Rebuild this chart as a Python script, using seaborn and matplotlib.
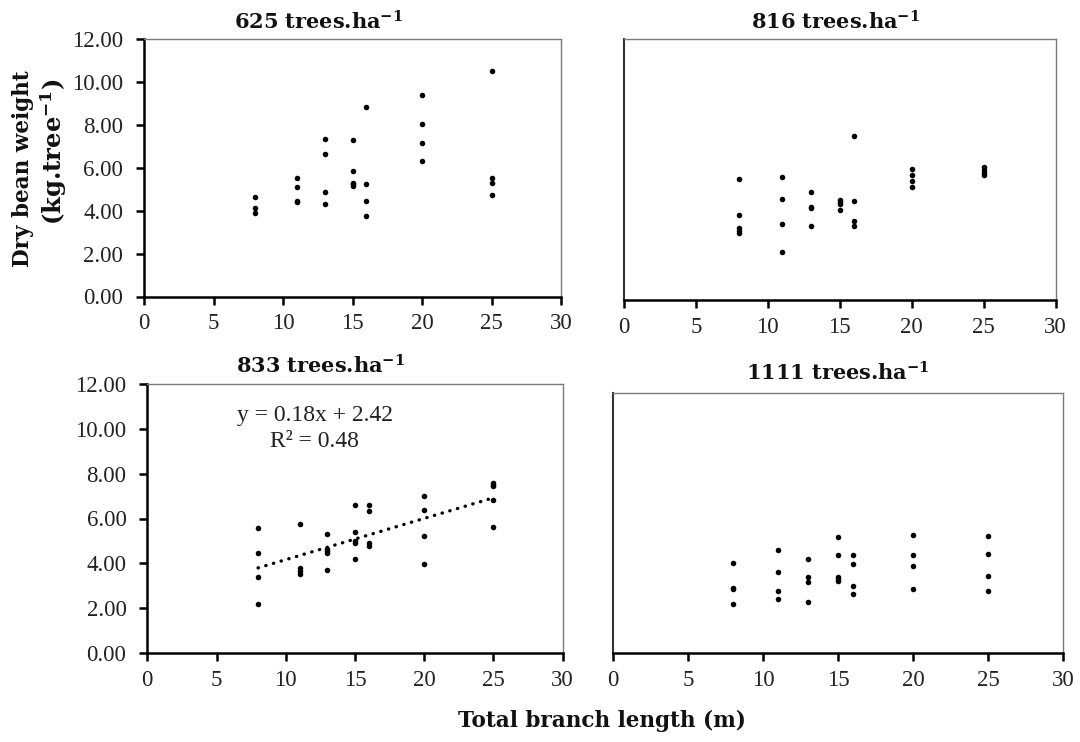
import matplotlib
matplotlib.use("Agg")
import matplotlib.pyplot as plt
import seaborn as sns
import pandas as pd
import numpy as np

# ---------------- data ----------------
titles = ["625 trees.ha$^{-1}$", "816 trees.ha$^{-1}$",
          "833 trees.ha$^{-1}$", "1111 trees.ha$^{-1}$"]

x_625 = [8, 8, 8, 11, 11, 11, 11, 13, 13, 13, 13, 15, 15, 15, 15, 15,
         16, 16, 16, 16, 20, 20, 20, 20, 25, 25, 25, 25]
y_625 = [4.63, 4.12, 3.87, 5.53, 5.11, 4.44, 4.40, 7.33, 6.62, 4.86, 4.29,
         7.27, 5.84, 5.30, 5.24, 5.16, 8.83, 5.24, 4.46, 3.74,
         9.37, 8.05, 7.17, 6.33, 10.50, 5.50, 5.30, 4.71]

x_816 = [8, 8, 8, 8, 8, 11, 11, 11, 11, 13, 13, 13, 13, 15, 15, 15, 15,
         16, 16, 16, 16, 20, 20, 20, 20, 25, 25, 25, 25]
y_816 = [5.58, 3.93, 3.30, 3.19, 3.08, 5.65, 4.64, 3.51, 2.21,
         4.99, 4.28, 4.22, 3.39, 4.60, 4.51, 4.41, 4.16,
         7.54, 4.57, 3.64, 3.39, 6.02, 5.74, 5.48, 5.22,
         6.12, 5.98, 5.85, 5.75]

x_833 = [8, 8, 8, 8, 11, 11, 11, 11, 13, 13, 13, 13, 13, 15, 15, 15, 15, 15,
         16, 16, 16, 16, 20, 20, 20, 20, 25, 25, 25, 25, 25]
y_833 = [5.56, 4.44, 3.39, 2.19, 5.76, 3.77, 3.65, 3.52,
         5.30, 4.66, 4.56, 4.48, 3.70, 6.60, 5.40, 5.01, 4.90, 4.20,
         6.61, 6.32, 4.90, 4.78, 7.00, 6.38, 5.22, 3.98,
         7.59, 7.50, 7.44, 6.84, 5.64]

x_1111 = [8, 8, 8, 8, 11, 11, 11, 11, 13, 13, 13, 13, 15, 15, 15, 15, 15,
          16, 16, 16, 16, 20, 20, 20, 20, 25, 25, 25, 25]
y_1111 = [4.15, 3.01, 2.96, 2.25, 4.73, 3.73, 2.84, 2.49,
          4.32, 3.52, 3.27, 2.37, 5.33, 4.50, 3.50, 3.40, 3.31,
          4.50, 4.09, 3.09, 2.72, 5.45, 4.50, 4.02, 2.96,
          5.39, 4.56, 3.55, 2.84]

x_ticks = [0, 5, 10, 15, 20, 25, 30]
y_ticks = [0, 2, 4, 6, 8, 10, 12]
eq_text = "y = 0.18x + 2.42"
r2_text = "R² = 0.48"

# ---------------- style ----------------
sns.set_theme(style="white")
plt.rcParams["font.family"] = ["Liberation Serif", "DejaVu Serif"]
plt.rcParams["mathtext.fontset"] = "custom"
plt.rcParams["mathtext.rm"] = "DejaVu Serif:bold"
plt.rcParams["mathtext.bf"] = "DejaVu Serif:bold"
plt.rcParams["mathtext.default"] = "rm"
BOLD = ["DejaVu Serif", "Liberation Serif"]

W, H = 1080, 742
fig = plt.figure(figsize=(W / 100, H / 100), dpi=100)
fig.patch.set_facecolor("white")


def ax_at(l, r, t, b):
    return fig.add_axes([l / W, 1 - b / H, (r - l) / W, (b - t) / H])


boxes = [(144, 561, 39, 296.5), (624, 1055.5, 39.3, 300),
         (147.3, 562.7, 384, 653), (613, 1063.3, 392.7, 653)]
series = [(x_625, y_625), (x_816, y_816), (x_833, y_833), (x_1111, y_1111)]

axes = []
for i, ((l, r, t, b), (xs, ys)) in enumerate(zip(boxes, series)):
    ax = ax_at(l, r, t, b)
    df = pd.DataFrame({"x": xs, "y": ys})
    sns.scatterplot(data=df, x="x", y="y", ax=ax, color="black", s=16,
                    linewidth=0, zorder=3)
    ax.set_xlim(0, 30)
    ax.set_ylim(0, 12)
    ax.set_xticks(x_ticks)
    ax.set_xticklabels([str(v) for v in x_ticks])
    ax.set_xlabel("")
    ax.set_ylabel("")
    for s in ["top", "right"]:
        ax.spines[s].set_color("#7a7a7a")
        ax.spines[s].set_linewidth(1.0)
    ax.spines["bottom"].set_color("black")
    ax.spines["bottom"].set_linewidth(1.8)
    ax.tick_params(axis="x", direction="out", length=6, width=1.8,
                   labelsize=16.5, pad=6, colors="black", bottom=True)
    ax.tick_params(axis="x", labelcolor="#222222")
    if i in (0, 2):
        ax.set_yticks(y_ticks)
        ax.set_yticklabels([f"{v:.2f}" for v in y_ticks])
        ax.spines["left"].set_color("black")
        ax.spines["left"].set_linewidth(1.8)
        ax.tick_params(axis="y", direction="out", length=6, width=1.8,
                       labelsize=16.5, pad=9, colors="black", left=True)
        ax.tick_params(axis="y", labelcolor="#222222")
    else:
        ax.set_yticks([])
        ax.spines["left"].set_color("#333333")
        ax.spines["left"].set_linewidth(1.5)
    axes.append(ax)

# trend line for 833 trees
sns.regplot(x=x_833, y=y_833, ax=axes[2], scatter=False, ci=None,
            truncate=True, color="black",
            line_kws={"linestyle": (0, (0.1, 2.3)), "linewidth": 2.4,
                      "dash_capstyle": "round"})
axes[2].set_xlim(0, 30)
axes[2].set_ylim(0, 12)

fig.text(315 / W, 1 - 416 / H, eq_text, ha="center", va="center",
         fontsize=17, color="#222222")
fig.text(314 / W, 1 - 442 / H, r2_text, ha="center", va="center",
         fontsize=17, color="#222222")

# titles
title_pos = [(318, 22), (835, 22), (320, 366), (838, 373)]
for t, (px, py) in zip(titles, title_pos):
    fig.text(px / W, 1 - py / H, t, ha="center", va="center",
             fontsize=15, fontweight="bold", family=BOLD, color="#111111")

# axis labels
fig.text(23 / W, 1 - 169 / H, "Dry bean weight", rotation=90, ha="center",
         va="center", fontsize=15.5, fontweight="bold", family=BOLD,
         color="#111111")
fig.text(54 / W, 1 - 152 / H, "(kg.tree$^{-1}$)", rotation=90, ha="center",
         va="center", fontsize=17.5, fontweight="bold", family=BOLD,
         color="#111111")
fig.text(602 / W, 1 - 721 / H, "Total branch length (m)", ha="center",
         va="center", fontsize=15.5, fontweight="bold", family=BOLD,
         color="#111111")

fig.savefig("out.png", dpi=100, facecolor="white")
